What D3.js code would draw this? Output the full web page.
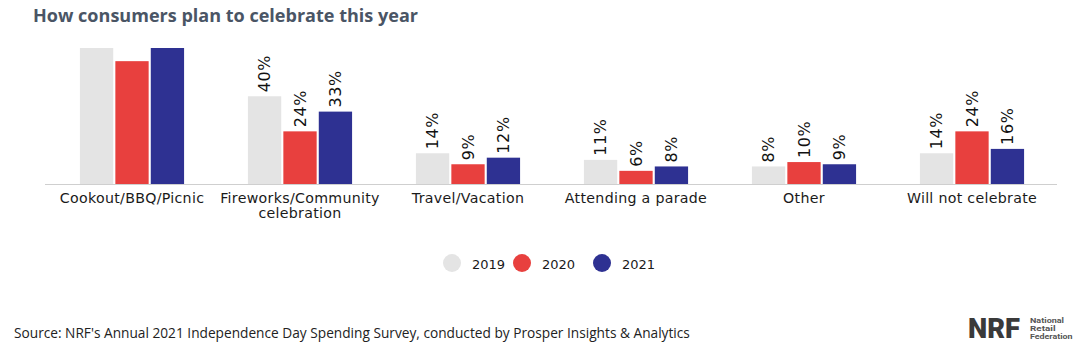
<!DOCTYPE html>
<html><head><meta charset="utf-8">
<script src="https://cdn.jsdelivr.net/npm/d3@7"></script>
<style>body{margin:0;background:#fff}svg{display:block}</style>
</head><body>
<svg id="c" width="1090" height="352"></svg>
<script>
const categories = ["Cookout/BBQ/Picnic", "Fireworks/Community celebration", "Travel/Vacation", "Attending a parade", "Other", "Will not celebrate"];
const categoryLines = [["Cookout/BBQ/Picnic"], ["Fireworks/Community", "celebration"], ["Travel/Vacation"], ["Attending a parade"], ["Other"], ["Will not celebrate"]];
const years = ["2019", "2020", "2021"];
const values2019 = [63, 40, 14, 11, 8, 14];
const values2020 = [56, 24, 9, 6, 10, 24];
const values2021 = [63, 33, 12, 8, 9, 16];
const colors = ["#e4e4e4", "#e8403e", "#2e3192"];
const series = [values2019, values2020, values2021];

const svg = d3.select("#c");
const labFont = "'DejaVu Sans', sans-serif";
const baseY = 184, topY = 48;

svg.append("text").attr("x", 33).attr("y", 22).attr("font-family", "'Open Sans', sans-serif")
  .attr("font-weight", 700).attr("font-size", 17.5).attr("fill", "#4a5565")
  .attr("textLength", 385).attr("lengthAdjust", "spacingAndGlyphs")
  .text("How consumers plan to celebrate this year");

const x0 = d3.scaleBand().domain(categories).range([48, 1056]).paddingInner(0.38).paddingOuter(0.19);
const x1 = d3.scaleBand().domain(years).range([0, x0.bandwidth()]).paddingInner(0.06);
const y = d3.scaleLinear().domain([0, 62]).range([baseY, topY]);

svg.append("defs").append("clipPath").attr("id", "clip")
  .append("rect").attr("x", 0).attr("y", topY).attr("width", 1090).attr("height", 400);

const plot = svg.append("g").attr("clip-path", "url(#clip)");
categories.forEach((c, i) => {
  years.forEach((yr, j) => {
    const v = series[j][i];
    const bx = x0(c) + x1(yr);
    plot.append("rect").attr("x", bx).attr("y", y(v)).attr("width", x1.bandwidth())
      .attr("height", baseY - y(v)).attr("fill", colors[j]);
    const lx = bx + x1.bandwidth() / 2 + 5.5, ly = y(v) - 4;
    const t = plot.append("text").attr("transform", `translate(${lx},${ly}) rotate(-90)`)
      .attr("font-family", labFont).attr("font-size", 16).attr("letter-spacing", 0.6).attr("fill", "#111")
      .text(v + "%");
    const len = t.node().getComputedTextLength();
    if (ly - len < topY) t.remove();
  });
});

svg.append("line").attr("x1", 45).attr("x2", 1057).attr("y1", baseY + 0.5).attr("y2", baseY + 0.5)
  .attr("stroke", "#cfcfcf").attr("stroke-width", 1);

categories.forEach((c, i) => {
  const cx = x0(c) + x0.bandwidth() / 2;
  const t = svg.append("text").attr("text-anchor", "middle").attr("font-family", labFont)
    .attr("font-size", 14.2).attr("letter-spacing", 0.3).attr("fill", "#1a1a1a");
  categoryLines[i].forEach((ln, k) => {
    t.append("tspan").attr("x", cx).attr("y", 203 + k * 15).text(ln);
  });
});

const legendX = [452, 522, 602];
years.forEach((yr, j) => {
  svg.append("circle").attr("cx", legendX[j]).attr("cy", 263).attr("r", 9).attr("fill", colors[j]);
  svg.append("text").attr("x", legendX[j] + 20).attr("y", 268.5).attr("font-family", labFont)
    .attr("font-size", 13).attr("fill", "#1a1a1a").text(yr);
});

svg.append("text").attr("x", 14).attr("y", 338).attr("font-family", "'Open Sans', sans-serif").attr("font-size", 13.7)
  .attr("fill", "#222").text("Source: NRF's Annual 2021 Independence Day Spending Survey, conducted by Prosper Insights & Analytics");

const logo = svg.append("g");
logo.append("text").attr("x", 968).attr("y", 338).attr("font-family", "Roboto, sans-serif")
  .attr("font-weight", 900).attr("font-size", 28).attr("fill", "#3a3a3a")
  .attr("textLength", 52).attr("lengthAdjust", "spacingAndGlyphs").text("NRF");
["National", "Retail", "Federation"].forEach((s, k) => {
  logo.append("text").attr("x", 1030).attr("y", 323 + k * 7.8).attr("font-family", "Roboto, sans-serif")
    .attr("font-weight", 700).attr("font-size", 7.6).attr("fill", "#555")
    .attr("textLength", s.length * 4.25).attr("lengthAdjust", "spacingAndGlyphs").text(s);
});
</script>
</body></html>
